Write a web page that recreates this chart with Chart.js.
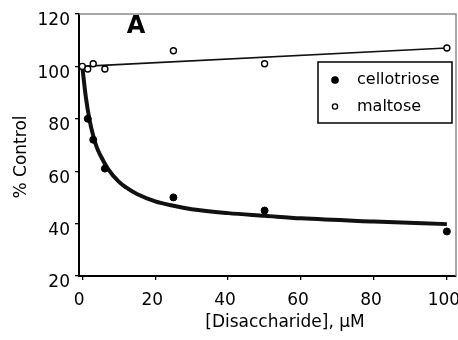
<!DOCTYPE html>
<html>
<head>
<meta charset="utf-8">
<script src="https://cdn.jsdelivr.net/npm/chart.js@4"></script>
<style>
  html, body { margin: 0; padding: 0; background: #fff; }
  #wrap { width: 458px; height: 340px; }
</style>
</head>
<body>
<div id="wrap"><canvas id="chart" width="458" height="340"></canvas></div>
<script>
// Data
const xTicks = [0, 20, 40, 60, 80, 100];
const yTicks = [20, 40, 60, 80, 100, 120];

const celloX = [1.5, 3, 6.2, 25, 50, 100];
const celloY = [80, 72, 61, 50, 45, 37];

const maltoseX = [0, 1.5, 3, 6.2, 25, 50, 100];
const maltoseY = [100, 99, 101, 99, 106, 101, 107];

// fitted curves
const celloFitX = [0, 1, 2, 3, 4, 5, 7, 10, 12, 15, 20, 25, 30, 40, 50, 60, 80, 100];
const celloFitY = [100, 88, 79.5, 73.5, 69, 66, 61, 56, 53.8, 51.3, 48.5, 46.8, 45.5, 44, 43, 42, 40.8, 39.8];
const maltoseFitX = [0, 100];
const maltoseFitY = [100, 107];

const xTitle = '[Disaccharide], μM';
const yTitle = '% Control';

const FONT = 'DejaVu Sans, Verdana, sans-serif';

function toPoints(xs, ys) {
    return xs.map((x, i) => ({ x: x, y: ys[i] }));
}

// gray frame on top and right, panel letter, axis titles, legend box
const framePlugin = {
    id: 'frame',
    afterDraw(chart) {
        const ctx = chart.ctx;
        const a = chart.chartArea;
        ctx.save();
        ctx.strokeStyle = '#8a8a8a';
        ctx.lineWidth = 1.5;
        ctx.beginPath();
        ctx.moveTo(a.left, a.top);
        ctx.lineTo(a.right, a.top);
        ctx.lineTo(a.right, a.bottom);
        ctx.stroke();

        // panel letter
        ctx.fillStyle = '#000';
        ctx.font = 'bold 24px ' + FONT;
        ctx.textAlign = 'center';
        ctx.textBaseline = 'alphabetic';
        ctx.fillText('A', 136, 33);

        // axis titles
        ctx.font = '17px ' + FONT;
        ctx.textBaseline = 'middle';
        ctx.fillText(xTitle, 285, 323);
        ctx.save();
        ctx.translate(22, 157);
        ctx.rotate(-Math.PI / 2);
        ctx.fillText(yTitle, 0, 0);
        ctx.restore();

        // legend
        ctx.fillStyle = '#fff';
        ctx.fillRect(318, 62, 134, 61);
        ctx.strokeStyle = '#000';
        ctx.lineWidth = 1.5;
        ctx.strokeRect(318, 62, 134, 61);

        const items = chart.data.datasets.filter(d => d.inLegend);
        ctx.font = '16px ' + FONT;
        ctx.textAlign = 'left';
        ctx.textBaseline = 'middle';
        items.forEach((d, i) => {
            const y = 80 + i * 26.5;
            ctx.beginPath();
            ctx.arc(335, y, i === 0 ? 3.2 : 2.6, 0, Math.PI * 2);
            ctx.fillStyle = d.backgroundColor;
            ctx.fill();
            ctx.lineWidth = 1.3;
            ctx.strokeStyle = '#000';
            ctx.stroke();
            ctx.fillStyle = '#000';
            ctx.fillText(d.label, 357, y);
        });
        ctx.restore();
    }
};

const ctx = document.getElementById('chart').getContext('2d');
new Chart(ctx, {
    type: 'scatter',
    data: {
        datasets: [
            {
                label: 'cellotriose',
                inLegend: true,
                data: toPoints(celloX, celloY),
                backgroundColor: '#000',
                borderColor: '#000',
                pointRadius: 3.5,
                borderWidth: 1,
                order: 1
            },
            {
                label: 'maltose',
                inLegend: true,
                data: toPoints(maltoseX, maltoseY),
                backgroundColor: '#fff',
                borderColor: '#000',
                pointRadius: 3,
                borderWidth: 1.4,
                order: 0
            },
            {
                label: 'cellotriose fit',
                data: toPoints(celloFitX, celloFitY),
                showLine: true,
                borderColor: '#111',
                borderWidth: 4,
                pointRadius: 0,
                cubicInterpolationMode: 'monotone',
                fill: false,
                order: 3
            },
            {
                label: 'maltose fit',
                data: toPoints(maltoseFitX, maltoseFitY),
                showLine: true,
                borderColor: '#111',
                borderWidth: 1.6,
                pointRadius: 0,
                fill: false,
                order: 2
            }
        ]
    },
    options: {
        responsive: false,
        animation: false,
        layout: { autoPadding: false, padding: { top: 14, right: 2, left: 0, bottom: 0 } },
        plugins: {
            legend: { display: false },
            tooltip: { enabled: false }
        },
        scales: {
            x: {
                type: 'linear',
                min: -0.9,
                max: 102.5,
                afterBuildTicks: (scale) => { scale.ticks = xTicks.map(v => ({ value: v })); },
                afterFit: (scale) => {
                    scale.height = 64;
                    scale.paddingLeft = 0;
                    scale.paddingRight = 0;
                },
                grid: { display: true, drawOnChartArea: false, drawTicks: true, tickLength: 4, color: '#000', lineWidth: 1.3 },
                border: { display: true, color: '#000', width: 2 },
                ticks: { color: '#000', font: { family: FONT, size: 17 }, padding: 10, maxRotation: 0, labelOffset: -3 }
            },
            y: {
                type: 'linear',
                min: 20,
                max: 120,
                afterBuildTicks: (scale) => { scale.ticks = yTicks.map(v => ({ value: v })); },
                afterFit: (scale) => {
                    scale.width = 79;
                    scale.paddingTop = 0;
                    scale.paddingBottom = 0;
                },
                grid: { display: true, drawOnChartArea: false, drawTicks: true, tickLength: 4, color: '#000', lineWidth: 1.3 },
                border: { display: true, color: '#000', width: 2 },
                ticks: { color: '#000', font: { family: FONT, size: 17 }, padding: 5, labelOffset: 7 }
            }
        }
    },
    plugins: [framePlugin]
});
</script>
</body>
</html>
